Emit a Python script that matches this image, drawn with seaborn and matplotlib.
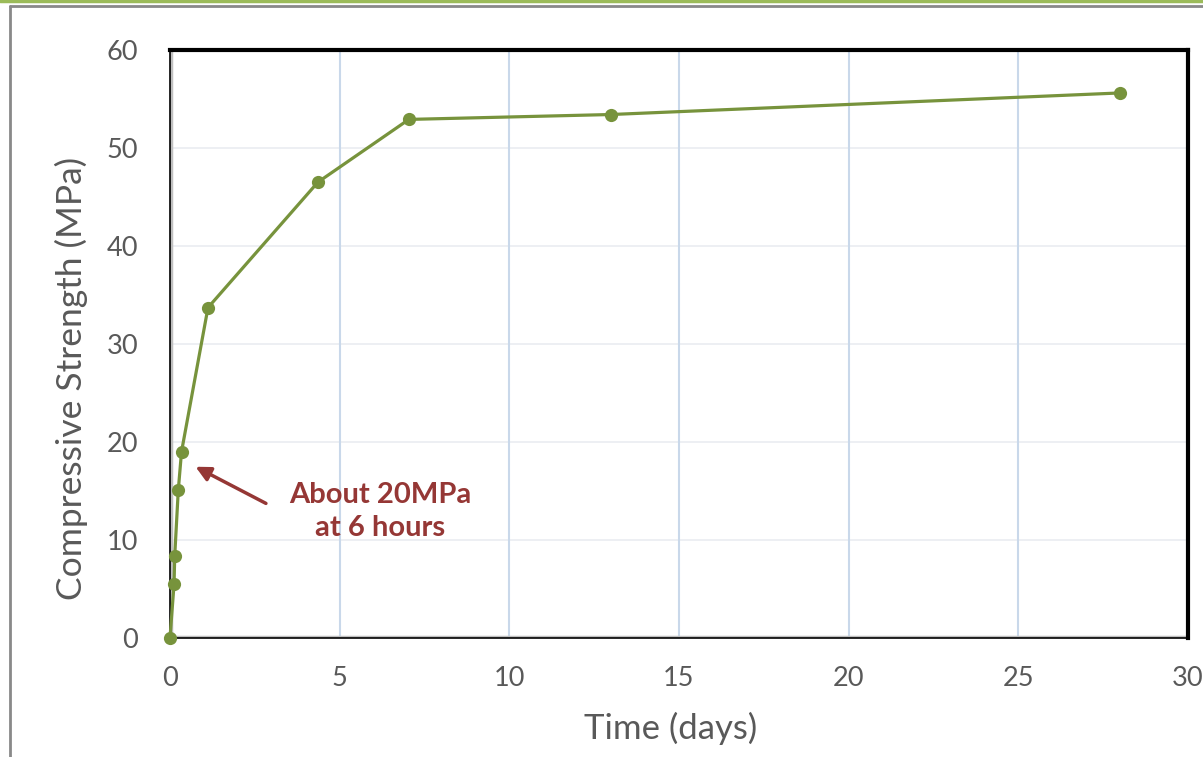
import numpy as np
import pandas as pd
import matplotlib.pyplot as plt
import seaborn as sns
from matplotlib.lines import Line2D

# strength gain curve
time_days = [0, 0.12, 0.14, 0.245, 0.34, 1.12, 4.36, 7.04, 13.0, 28.0]
strength_mpa = [0, 5.5, 8.4, 15.1, 19.0, 33.7, 46.5, 52.9, 53.4, 55.6]
x_ticks = [0, 5, 10, 15, 20, 25, 30]
y_ticks = [0, 10, 20, 30, 40, 50, 60]


def main():
    df = pd.DataFrame({"time": time_days, "strength": strength_mpa})

    sns.set_style("white")
    plt.rcParams['font.family'] = ['Lato', 'DejaVu Sans']

    fig = plt.figure(figsize=(12.03, 7.57), dpi=100)
    ax = fig.add_axes([0.1413, 0.1572, 0.8462, 0.777])

    # gridlines like excel: faint horizontal, bluish vertical
    for y in y_ticks[1:-1]:
        ax.axhline(y, color="#eceef2", lw=1.3, zorder=0)
    for x in x_ticks[1:-1]:
        ax.axvline(x, color="#c9d8ea", lw=1.5, zorder=0)

    sns.lineplot(data=df, x="time", y="strength", ax=ax, color="#77933c",
                 lw=2.3, marker="o", markersize=9.5, markeredgewidth=0,
                 zorder=3, clip_on=False)

    ax.set_xlim(0, 30)
    ax.set_ylim(0, 60)
    ax.set_xticks(x_ticks)
    ax.set_yticks(y_ticks)
    ax.tick_params(axis="both", length=0, labelsize=19.5, colors="#595959")
    ax.tick_params(axis="y", pad=23)
    ax.tick_params(axis="x", pad=20)

    ax.set_xlabel("Time (days)", fontsize=25, color="#595959", labelpad=15)
    ax.set_ylabel("Compressive Strength (MPa)", fontsize=25.5, color="#595959")
    ax.xaxis.set_label_coords(0.492, -0.125)
    ax.yaxis.set_label_coords(-0.0805, 0.442)

    for s in ["top", "right"]:
        ax.spines[s].set_color("black")
        ax.spines[s].set_linewidth(3)
    for s in ["left", "bottom"]:
        ax.spines[s].set_color("black")
        ax.spines[s].set_linewidth(1.2)
    ax.axhline(0.12, color="#bfbfbf", lw=2.5, zorder=1)
    ax.axvline(0.04, color="#bfbfbf", lw=2.5, zorder=1)

    ax.annotate("", xy=(0.68, 17.6), xytext=(2.9, 13.6),
                arrowprops=dict(arrowstyle="-|>", color="#953735", lw=2.5,
                                mutation_scale=22))
    ax.text(6.2, 12.9, "About 20MPa\nat 6 hours", ha="center", va="center",
            fontsize=21, fontweight="bold", color="#953735", linespacing=1.3)

    # outer chart border
    fig.add_artist(Line2D([0, 1], [0.999, 0.999], color="#9bbb59", lw=2.5,
                          transform=fig.transFigure))
    fig.add_artist(Line2D([0.0085, 1], [0.9915, 0.9915], color="#898989", lw=2,
                          transform=fig.transFigure))
    fig.add_artist(Line2D([0.0085, 0.0085], [0, 0.9915], color="#898989", lw=2,
                          transform=fig.transFigure))

    fig.savefig("out.png", dpi=100)


if __name__ == '__main__':
    main()
